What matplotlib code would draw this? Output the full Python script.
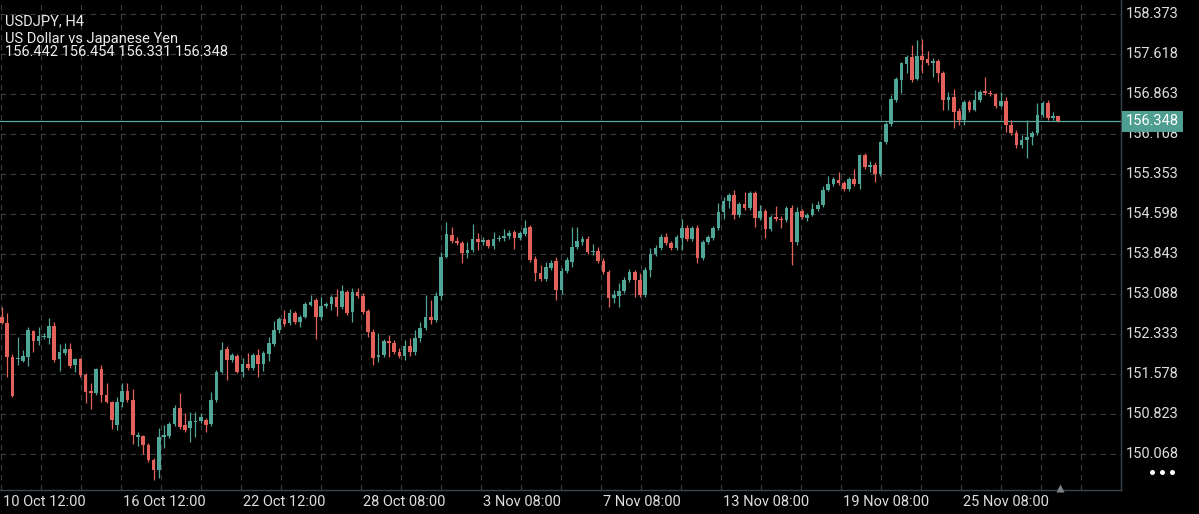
import numpy as np
import matplotlib.pyplot as plt
from matplotlib.lines import Line2D
import matplotlib.transforms as mtransforms

plt.rcParams['font.family'] = ['Roboto', 'DejaVu Sans']

# ---- data (H4 candles) ----
opens = [
    152.66, 152.54, 151.90, 151.86, 151.82, 151.90, 152.39, 152.20, 152.28, 152.26,
    152.49, 151.86, 151.97, 152.05, 151.75, 151.86, 151.56, 151.26, 151.22, 151.67,
    151.19, 151.05, 150.62, 151.05, 151.26, 151.09, 150.39, 150.41, 150.24, 149.95,
    149.77, 150.39, 150.41, 150.63, 150.94, 150.62, 150.56, 150.67, 150.69, 150.71,
    150.63, 151.09, 151.61, 152.05, 151.84, 151.92, 151.61, 151.76, 151.69, 151.94,
    151.76, 151.95, 152.14, 152.41, 152.62, 152.54, 152.73, 152.56, 152.66, 152.88,
    152.97, 152.66, 152.86, 152.90, 153.03, 152.84, 153.12, 152.75, 153.12, 153.05,
    152.77, 152.37, 151.90, 151.94, 152.20, 152.16, 151.99, 151.92, 152.11, 151.99,
    152.26, 152.45, 152.66, 152.60, 153.05, 153.79, 154.20, 154.09, 154.05, 153.86,
    153.92, 154.13, 154.07, 154.11, 153.99, 154.13, 154.15, 154.18, 154.26, 154.15,
    154.22, 154.35, 153.75, 153.48, 153.37, 153.58, 153.71, 153.16, 153.52, 153.69,
    153.97, 154.07, 154.13, 153.88, 153.90, 153.71, 153.50, 153.01, 153.05, 153.14,
    153.35, 153.50, 153.35, 153.07, 153.54, 153.84, 153.96, 154.16, 154.05, 153.96,
    154.14, 154.33, 154.13, 154.33, 153.77, 154.07, 154.14, 154.33, 154.63, 154.84,
    154.95, 154.58, 154.78, 154.71, 154.99, 154.52, 154.65, 154.31, 154.54, 154.50,
    154.48, 154.71, 154.07, 154.65, 154.52, 154.58, 154.69, 154.77, 155.05, 155.16,
    155.24, 155.18, 155.07, 155.26, 155.16, 155.71, 155.48, 155.52, 155.35, 155.96,
    156.30, 156.75, 157.13, 157.43, 157.56, 157.15, 157.58, 157.52, 157.45, 157.48,
    157.26, 156.75, 156.80, 156.54, 156.37, 156.71, 156.56, 156.75, 156.92, 156.88,
    156.86, 156.64, 156.73, 156.28, 156.12, 155.90, 156.00, 156.05, 156.12, 156.47,
    156.69, 156.41, 156.442,
]
highs = [
    152.84, 152.73, 151.95, 152.28, 152.03, 152.47, 152.41, 152.47, 152.35, 152.64,
    152.56, 152.14, 152.16, 152.16, 151.88, 151.88, 151.59, 151.41, 151.69, 151.75,
    151.41, 151.07, 151.15, 151.41, 151.41, 151.30, 150.48, 150.43, 150.27, 149.99,
    150.56, 150.62, 150.67, 150.99, 151.22, 150.84, 150.86, 150.86, 150.84, 150.75,
    151.24, 151.65, 152.18, 152.11, 151.97, 151.95, 151.88, 151.97, 151.97, 152.05,
    152.01, 152.28, 152.58, 152.66, 152.79, 152.81, 152.77, 152.69, 152.94, 153.07,
    153.01, 153.03, 152.94, 153.07, 153.18, 153.26, 153.16, 153.20, 153.20, 153.10,
    152.81, 152.43, 152.35, 152.24, 152.31, 152.22, 152.07, 152.22, 152.26, 152.41,
    152.56, 153.07, 152.97, 153.12, 153.88, 154.45, 154.35, 154.16, 154.09, 154.07,
    154.41, 154.24, 154.16, 154.13, 154.26, 154.20, 154.32, 154.30, 154.30, 154.28,
    154.48, 154.39, 153.80, 153.63, 153.69, 153.73, 153.79, 153.58, 153.79, 154.35,
    154.35, 154.18, 154.18, 154.03, 153.97, 153.77, 153.54, 153.16, 153.29, 153.41,
    153.56, 153.54, 153.48, 153.60, 153.96, 154.01, 154.22, 154.24, 154.09, 154.20,
    154.50, 154.39, 154.37, 154.39, 154.11, 154.20, 154.37, 154.80, 154.92, 154.99,
    155.05, 154.82, 155.01, 155.03, 155.03, 154.77, 154.69, 154.58, 154.75, 154.56,
    154.75, 154.77, 154.73, 154.69, 154.62, 154.80, 154.84, 155.13, 155.31, 155.30,
    155.39, 155.22, 155.30, 155.45, 155.73, 155.75, 155.60, 155.58, 155.97, 156.33,
    156.84, 157.18, 157.47, 157.60, 157.79, 157.88, 157.90, 157.67, 157.54, 157.52,
    157.30, 156.90, 156.96, 156.60, 156.75, 156.75, 156.94, 156.94, 157.18, 156.94,
    156.88, 156.90, 156.81, 156.37, 156.18, 156.09, 156.37, 156.16, 156.69, 156.73,
    156.75, 156.52, 156.454,
]
lows = [
    152.52, 151.52, 151.15, 151.75, 151.80, 151.73, 151.99, 152.13, 152.24, 152.14,
    151.80, 151.63, 151.94, 151.69, 151.61, 151.52, 151.03, 150.92, 151.19, 151.05,
    151.03, 150.54, 150.52, 150.96, 151.05, 150.25, 150.22, 150.06, 149.91, 149.58,
    149.62, 150.18, 150.37, 150.60, 150.54, 150.48, 150.29, 150.39, 150.65, 150.48,
    150.60, 151.05, 151.59, 151.46, 151.80, 151.59, 151.52, 151.65, 151.65, 151.52,
    151.63, 151.82, 152.11, 152.35, 152.49, 152.51, 152.52, 152.47, 152.64, 152.86,
    152.24, 152.60, 152.82, 152.79, 152.68, 152.81, 152.69, 152.56, 153.01, 152.71,
    152.28, 151.75, 151.80, 151.90, 151.90, 151.95, 151.88, 151.84, 151.92, 151.94,
    152.18, 152.41, 152.52, 152.56, 152.97, 153.77, 154.05, 154.01, 153.67, 153.77,
    153.88, 153.92, 154.01, 153.96, 153.94, 154.09, 154.09, 154.13, 153.94, 154.11,
    154.18, 153.69, 153.33, 153.33, 153.33, 153.54, 152.97, 153.09, 153.48, 153.60,
    153.94, 154.01, 153.84, 153.82, 153.67, 153.46, 152.84, 152.92, 152.84, 153.10,
    153.31, 153.03, 153.03, 153.03, 153.41, 153.80, 153.92, 154.01, 153.92, 153.92,
    153.92, 154.09, 154.09, 153.67, 153.73, 154.03, 154.11, 154.30, 154.50, 154.71,
    154.50, 154.54, 154.67, 154.67, 154.35, 154.48, 154.14, 154.28, 154.46, 154.33,
    154.44, 153.63, 154.01, 154.50, 154.46, 154.56, 154.65, 154.73, 155.03, 155.13,
    155.14, 155.03, 155.03, 155.13, 155.07, 155.45, 155.39, 155.20, 155.31, 155.92,
    156.26, 156.71, 156.88, 157.26, 157.09, 157.13, 157.26, 157.41, 157.18, 157.09,
    156.56, 156.56, 156.22, 156.28, 156.28, 156.52, 156.54, 156.71, 156.84, 156.82,
    156.60, 156.62, 156.14, 156.09, 155.84, 155.84, 155.65, 155.90, 156.09, 156.43,
    156.37, 156.37, 156.331,
]
closes = [
    152.54, 151.90, 151.17, 151.87, 151.92, 152.41, 152.20, 152.30, 152.30, 152.49,
    151.84, 151.99, 152.05, 151.73, 151.86, 151.56, 151.24, 151.22, 151.67, 151.19,
    151.05, 150.71, 151.05, 151.26, 151.09, 150.43, 150.43, 150.24, 149.95, 149.77,
    150.39, 150.43, 150.63, 150.94, 150.58, 150.52, 150.69, 150.69, 150.77, 150.62,
    151.09, 151.61, 152.03, 151.84, 151.94, 151.61, 151.76, 151.69, 151.94, 151.76,
    151.97, 152.16, 152.41, 152.62, 152.52, 152.73, 152.56, 152.66, 152.90, 152.94,
    152.66, 152.86, 152.90, 153.03, 152.84, 153.14, 152.73, 153.12, 153.05, 152.75,
    152.37, 151.88, 151.94, 152.20, 152.16, 151.99, 151.92, 152.11, 151.99, 152.26,
    152.45, 152.66, 152.60, 153.05, 153.79, 154.22, 154.09, 154.05, 153.86, 153.92,
    154.13, 154.07, 154.11, 153.99, 154.13, 154.15, 154.18, 154.24, 154.15, 154.24,
    154.33, 153.73, 153.48, 153.37, 153.60, 153.67, 153.16, 153.52, 153.73, 153.97,
    154.09, 154.13, 153.88, 153.90, 153.71, 153.50, 153.01, 153.07, 153.14, 153.35,
    153.50, 153.35, 153.07, 153.54, 153.84, 153.96, 154.16, 154.05, 153.96, 154.16,
    154.33, 154.13, 154.33, 153.77, 154.07, 154.16, 154.33, 154.63, 154.84, 154.95,
    154.58, 154.78, 154.71, 154.99, 154.52, 154.65, 154.31, 154.54, 154.50, 154.48,
    154.71, 154.07, 154.63, 154.54, 154.58, 154.69, 154.77, 155.05, 155.16, 155.26,
    155.18, 155.07, 155.26, 155.16, 155.71, 155.48, 155.52, 155.35, 155.96, 156.30,
    156.77, 157.15, 157.45, 157.56, 157.13, 157.58, 157.50, 157.45, 157.48, 157.26,
    156.75, 156.80, 156.52, 156.37, 156.71, 156.56, 156.75, 156.90, 156.88, 156.86,
    156.64, 156.73, 156.28, 156.12, 155.90, 156.00, 156.05, 156.12, 156.47, 156.69,
    156.41, 156.45, 156.348,
]

time_labels = ['10 Oct 12:00', '16 Oct 12:00', '22 Oct 12:00', '28 Oct 08:00', '3 Nov 08:00',
               '7 Nov 08:00', '13 Nov 08:00', '19 Nov 08:00', '25 Nov 08:00']
price_ticks = [150.068, 150.823, 151.578, 152.333, 153.088, 153.843,
               154.598, 155.353, 156.108, 156.863, 157.618, 158.373]
last_price = 156.348
header = ['USDJPY, H4', 'US Dollar vs Japanese Yen', '156.442 156.454 156.331 156.348']

# ---- layout in pixels ----
W, H = 1199, 514
BAR_PX = 5.229       # distance between candles
FIRST_PX = 2.0       # x of first candle
PLOT_W = 1121        # right border of chart area
PLOT_H = 490         # bottom border of chart area
GRID_PX = 40         # vertical grid step
TOP_TICK_PX = 14     # y of the highest price tick
PX_PER_PRICE = 40 / 0.755

TEAL = '#4fa596'
RED = '#e2625b'
GRID = '#3a3d40'
FRAME = '#3b454c'
TXT = '#dedede'

fig = plt.figure(figsize=(W / 100, H / 100), dpi=100, facecolor='black')
ax = fig.add_axes([0, (H - PLOT_H) / H, PLOT_W / W, PLOT_H / H])
ax.set_facecolor('black')

x0 = -FIRST_PX / BAR_PX
ax.set_xlim(x0, x0 + PLOT_W / BAR_PX)
top = price_ticks[-1] + TOP_TICK_PX / PX_PER_PRICE
ax.set_ylim(top - PLOT_H / PX_PER_PRICE, top)

# grid
for p in price_ticks:
    ax.axhline(p, color=GRID, lw=0.8, ls=(0, (5, 4)), zorder=0)
n_vgrid = int(PLOT_W // GRID_PX)
vgrid = [x0 + (0.7 + GRID_PX * k) / BAR_PX for k in range(n_vgrid)]
for xv in vgrid:
    ax.axvline(xv, color=GRID, lw=0.8, ls=(0, (5, 4)), zorder=0)

# candles
o, h, l, c = map(np.array, (opens, highs, lows, closes))
idx = np.arange(len(c))
colors = np.where(c >= o, TEAL, RED)
ax.vlines(idx, l, h, colors=colors, lw=0.9, zorder=2)
body_bottom = np.minimum(o, c)
body_h = np.maximum(np.abs(c - o), 0.018)
ax.bar(idx, body_h, bottom=body_bottom, width=0.7, color=colors, linewidth=0, zorder=3)

# last price line + tag
ax.axhline(last_price, color='#5aaa9d', lw=0.9, zorder=1)

for s in ['top', 'left']:
    ax.spines[s].set_visible(False)
for s in ['right', 'bottom']:
    ax.spines[s].set_color(FRAME)
    ax.spines[s].set_linewidth(1.0)
ax.set_xticks([])
ax.set_yticks([])

# price axis labels
ytrans = mtransforms.blended_transform_factory(ax.transAxes, ax.transData)
for p in price_ticks:
    ax.text(1 + 5 / PLOT_W, p, f'{p:.3f}', transform=ytrans, ha='left', va='center',
            fontsize=10.5, color=TXT, clip_on=False)
ax.text(1 + 5 / PLOT_W, last_price, f'{last_price:.3f}', transform=ytrans, ha='left',
        va='center', fontsize=10.5, color='white', clip_on=False, zorder=5,
        bbox=dict(boxstyle='square,pad=0.25', fc='#4f9e92', ec='none'))

# time axis labels, every third grid line
xtrans = mtransforms.blended_transform_factory(ax.transData, ax.transAxes)
for k, lab in enumerate(time_labels):
    xv = vgrid[3 * k] + 2 / BAR_PX
    ax.text(xv, -12 / PLOT_H, lab, transform=xtrans, ha='left', va='center',
            fontsize=10.5, color=TXT, clip_on=False)

# header text
for txt, yc in zip(header, [21, 39, 52]):
    fig.text(5 / W, 1 - yc / H, txt, ha='left', va='center', fontsize=10.5, color='#ececec')

# little UI marks: scroll triangle and menu dots
fig.add_artist(Line2D([1060 / W], [1 - 488 / H], marker='^', ms=6, color='#7d8287',
                      mec='none', transform=fig.transFigure))
fig.add_artist(Line2D([1151.5 / W, 1161.7 / W, 1172.2 / W], [1 - 472 / H] * 3, ls='none',
                      marker='o', ms=3.6, color='white', mec='none', transform=fig.transFigure))

fig.savefig('out.png', dpi=100, facecolor='black')
